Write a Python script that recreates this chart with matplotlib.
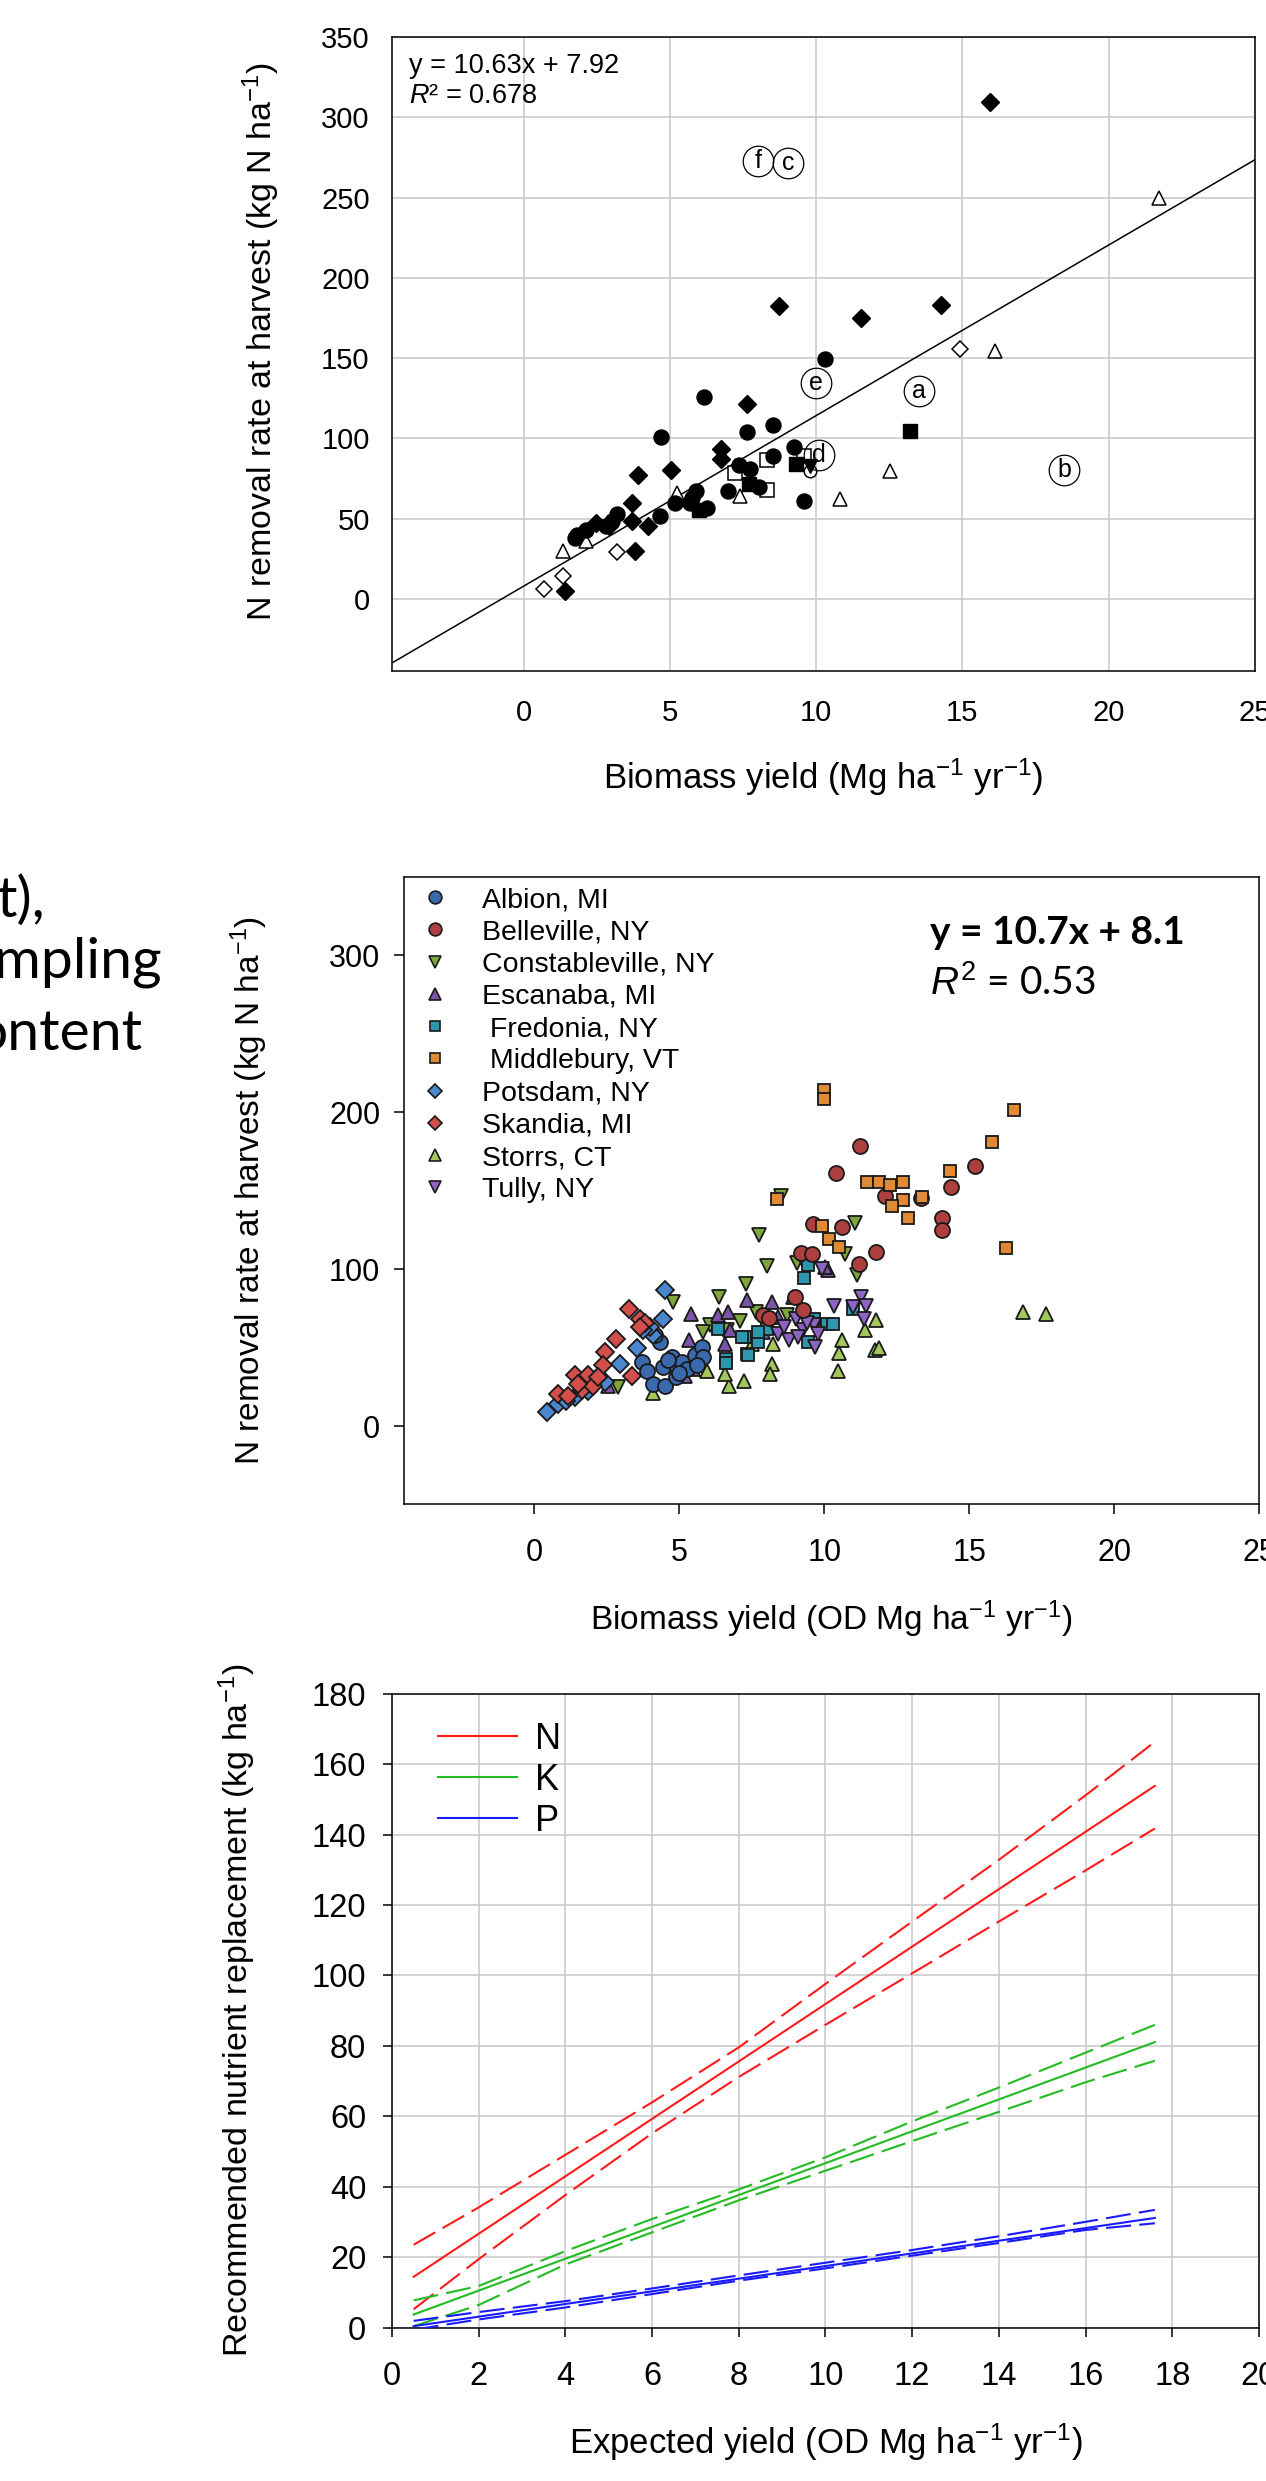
import matplotlib
matplotlib.use("Agg")
import matplotlib.pyplot as plt
from matplotlib.lines import Line2D

plt.rcParams['font.family'] = ['Liberation Sans', 'DejaVu Sans']
plt.rcParams['mathtext.fontset'] = 'custom'
plt.rcParams['mathtext.rm'] = 'Liberation Sans'
plt.rcParams['mathtext.it'] = 'Liberation Sans:italic'
plt.rcParams['mathtext.bf'] = 'Liberation Sans:bold'

# ---------------- panel 1: literature data ----------------
fill_circ_x = [6.17, 4.71, 7.63, 8.54, 8.54, 9.25, 7.35, 7.75, 6.99, 8.03, 9.59, 5.89, 5.76, 5.70,
               6.27, 5.19, 4.65, 3.2, 1.83, 2.12, 1.77, 3.03, 2.8, 10.31]
fill_circ_y = [125.8, 100.7, 104, 108.6, 89.3, 94.5, 83.7, 81, 67.5, 69.8, 61.3, 67, 63, 60,
               56.7, 59.9, 51.5, 52.6, 40, 43, 38, 48.4, 45.3, 149.5]
fill_diam_x = [15.94, 8.73, 11.53, 14.26, 7.63, 6.76, 6.76, 5.05, 3.91, 3.71, 3.71, 4.26, 3.82, 1.43, 2.46, 2.91]
fill_diam_y = [309.6, 182.3, 175, 183, 121.6, 93.5, 87.2, 80.6, 77.3, 59.9, 48.4, 45.3, 29.7, 4.9, 47.4, 45.3]
fill_sq_x = [13.21, 9.32, 7.69, 5.98]
fill_sq_y = [104.9, 84, 71.3, 55.6]
fill_dtri_x = [9.8]
fill_dtri_y = [82.6]
open_sq_x = [8.32, 7.24, 8.32, 9.6]
open_sq_y = [86.8, 78.5, 67.7, 89]
open_tri_x = [21.72, 16.13, 12.52, 10.82, 1.35, 5.25, 7.41, 2.12]
open_tri_y = [250, 154.7, 79.4, 62, 29.7, 66, 64.4, 36]
open_diam_x = [14.9, 3.18, 1.33, 0.69]
open_diam_y = [156, 29.5, 14.3, 6.4]
open_circ_x = [9.8]
open_circ_y = [80]
letter_lab = ['f', 'c', 'e', 'a', 'b', 'd']
letter_x = [8.02, 9.03, 10.0, 13.53, 18.47, 10.1]
letter_y = [273.0, 271.5, 134.3, 129.6, 80.3, 89.5]
fit1_slope = 10.63
fit1_icpt = 7.92

# ---------------- panel 2: sites ----------------
site_names = ['Albion, MI', 'Belleville, NY', 'Constableville, NY', 'Escanaba, MI', ' Fredonia, NY',
              ' Middlebury, VT', 'Potsdam, NY', 'Skandia, MI', 'Storrs, CT', 'Tully, NY']
albion_x = [3.7, 3.87, 4.1, 4.33, 4.5, 4.44, 4.73, 4.9, 5.08, 4.9, 5.25, 5.54, 5.77, 5.82, 4.6, 5.0, 4.16, 5.6]
albion_y = [40.7, 35.4, 26.9, 53.5, 25.8, 37.5, 43.9, 38.6, 40.7, 31.1, 36.5, 45, 50.3, 44.3, 42, 34, 57.8, 39]
belle_x = [11.22, 10.39, 15.2, 14.37, 14.05, 14.05, 12.08, 10.6, 9.62, 11.78, 9.19, 9.56, 11.2, 8.99, 9.28, 7.9, 13.33, 8.1]
belle_y = [178.4, 161.4, 166, 152.1, 132.7, 125.3, 146.4, 126.6, 128.7, 111, 110.6, 110, 103.6, 82.2, 73.7, 70.5, 145.7, 69]
const_x = [8.51, 7.75, 8.02, 7.3, 6.37, 4.77, 11.06, 10.71, 11.12, 9.07, 7.64, 6.06, 6.66, 2.89, 8.7, 9.3, 5.8, 7.1]
const_y = [146.4, 121.7, 102, 90.5, 82.5, 79, 129.5, 110, 96.1, 104, 72.4, 64.2, 61, 24.7, 70.5, 104, 60, 67]
escan_x = [10.14, 10.02, 8.93, 8.18, 7.34, 8.41, 5.4, 6.32, 6.69, 6.57, 6.75, 5.48, 5.19, 5.34, 2.55, 7.9]
escan_y = [99.7, 101.4, 82.2, 79, 80.1, 69.5, 71.6, 71, 72.7, 52.5, 61, 36.5, 32.2, 54.6, 25.8, 60]
fredo_x = [9.43, 9.31, 9.64, 10.1, 11.0, 8.03, 7.26, 7.72, 7.32, 9.45, 6.34, 6.61, 6.61, 7.15, 7.38, 7.7, 10.3]
fredo_y = [102.5, 94.6, 68.4, 64.8, 74.8, 62, 56.7, 53.5, 46.1, 53.5, 61.6, 42.9, 40, 56.7, 45, 60, 65]
middl_x = [9.98, 9.98, 16.56, 15.8, 14.34, 11.47, 11.9, 12.26, 12.7, 13.38, 12.7, 12.33, 12.9, 8.36, 9.91, 10.17, 10.52, 16.26]
middl_y = [214.2, 208.3, 201.5, 181.3, 162.8, 155.5, 155.5, 153.5, 155.7, 146.1, 144, 140.2, 132.7, 144.5, 127.6, 119.1, 114.2, 113.2]
potsd_x = [4.5, 4.45, 4.1, 3.53, 2.95, 0.42, 0.82, 1.4, 1.86, 2.43, 3.99, 2.2, 1.1, 3.75]
potsd_y = [87, 68.4, 57.8, 49.9, 39.7, 8.8, 14.1, 18.3, 22.6, 27.9, 63, 31, 16, 61]
skand_x = [3.27, 3.64, 3.8, 3.66, 2.81, 2.43, 2.35, 3.35, 1.4, 1.86, 1.63, 2.03, 0.82, 1.17, 2.2, 1.5]
skand_y = [74.8, 68.4, 66, 63, 55.7, 47.1, 38.6, 32.2, 32.8, 32.8, 23.1, 25.8, 20.5, 19.4, 31.1, 27]
storr_x = [16.87, 17.66, 11.78, 11.4, 10.6, 10.52, 11.75, 11.9, 10.46, 8.22, 8.18, 8.13, 7.23, 7.5, 5.94, 6.72, 6.57, 4.1]
storr_y = [72.4, 71.4, 67.3, 61, 54.6, 46.5, 48.2, 49.8, 35, 52.5, 39.7, 33.3, 29, 52, 35.4, 25.8, 33.3, 20.9]
tully_x = [11.26, 11.0, 11.44, 11.37, 10.33, 9.91, 9.02, 9.28, 9.64, 9.79, 8.79, 8.41, 9.68, 9.1, 9.4, 8.6]
tully_y = [82.2, 75.8, 76.3, 68.4, 76.3, 100.4, 68.4, 61, 64.2, 58.9, 54.6, 58.9, 50.3, 56.7, 66, 63]

# ---------------- panel 3: recommended replacement ----------------
yield_ends = [0.5, 17.6]
n_mid = [14.5, 153.8]
k_mid = [3.8, 81.1]
p_mid = [0.5, 31.2]
band_x = [0.5, 2, 4, 6, 8, 10, 12, 14, 16, 17.6]
n_up = [23.6, 34.2, 49.1, 64, 79.6, 97.6, 115.3, 132.8, 151.1, 166.3]
n_lo = [5.3, 19.5, 37.7, 55.2, 71.2, 86, 100.6, 115.3, 129.8, 141.7]
k_up = [7.8, 11.9, 21.8, 30.9, 39.3, 48.4, 58.6, 68.2, 78.1, 86]
k_lo = [0.5, 6.5, 18, 27.1, 36.2, 44.6, 53, 61.3, 69.7, 75.8]
p_up = [2, 4.5, 7.6, 11.2, 14.9, 18.5, 22.1, 26, 30.1, 33.5]
p_lo = [-0.5, 2.4, 5.8, 9.6, 13.4, 16.9, 20.5, 24.1, 27.8, 29.7]

fig = plt.figure(figsize=(12.66, 24.81), dpi=100)

# left cropped slide text
slide_font = ['Lato', 'DejaVu Sans']
fig.text(45 / 1266, 1 - 917 / 2481, "t),", ha='right', va='baseline', fontsize=41, family=slide_font)
fig.text(162 / 1266, 1 - 977 / 2481, "mpling", ha='right', va='baseline', fontsize=41, family=slide_font)
fig.text(143 / 1266, 1 - 1050 / 2481, "ontent", ha='right', va='baseline', fontsize=41, family=slide_font)

# ---------------- panel 1 ----------------
ax1 = fig.add_axes([0.3096, 0.7295, 0.6817, 0.2555])
ax1.set_xlim(-4.5, 25)
ax1.set_ylim(-45, 350)
ax1.set_xticks(range(0, 26, 5))
ax1.set_yticks(range(0, 351, 50))
ax1.grid(True, color='#c8c8c8', lw=1.1)
ax1.set_axisbelow(True)
ax1.tick_params(length=0, labelsize=21)
ax1.tick_params(axis='y', pad=16)
ax1.tick_params(axis='x', pad=20)
for s in ax1.spines.values():
    s.set_linewidth(1.1)

xl = list(ax1.get_xlim())
ax1.plot(xl, [fit1_slope * v + fit1_icpt for v in xl], 'k-', lw=1.1, zorder=2)
ax1.plot(open_sq_x, open_sq_y, 's', ms=9.6, mfc='white', mec='k', mew=1.1, zorder=3)
ax1.plot(open_tri_x, open_tri_y, '^', ms=10, mfc='white', mec='k', mew=1.1, zorder=3)
ax1.plot(open_diam_x, open_diam_y, 'D', ms=8.5, mfc='white', mec='k', mew=1.1, zorder=3)
ax1.plot(open_circ_x, open_circ_y, 'o', ms=9, mfc='white', mec='k', mew=1.1, zorder=3)
ax1.plot(fill_circ_x, fill_circ_y, 'o', ms=10.8, mfc='k', mec='k', zorder=4)
ax1.plot(fill_diam_x, fill_diam_y, 'D', ms=9, mfc='k', mec='k', zorder=4)
ax1.plot(fill_sq_x, fill_sq_y, 's', ms=10.5, mfc='k', mec='k', zorder=4)
ax1.plot(fill_dtri_x, fill_dtri_y, 'v', ms=10, mfc='k', mec='k', zorder=4)
for lab, lx, ly in zip(letter_lab, letter_x, letter_y):
    ax1.plot([lx], [ly], 'o', ms=22, mfc='none', mec='k', mew=0.9, zorder=5)
    ax1.text(lx, ly, lab, ha='center', va='center', fontsize=18, zorder=6)

ax1.text(0.02, 0.954, "y = 10.63x + 7.92", transform=ax1.transAxes, fontsize=19.5, va='center')
ax1.text(0.02, 0.907, r"$R$² = 0.678", transform=ax1.transAxes, fontsize=19.5, va='center')
ax1.set_xlabel("Biomass yield (Mg ha$^{-1}$ yr$^{-1}$)", fontsize=25)
ax1.set_ylabel("N removal rate at harvest (kg N ha$^{-1}$)", fontsize=24.5)
ax1.xaxis.set_label_coords(0.5, -0.135)
ax1.yaxis.set_label_coords(-0.127, 0.52)

# ---------------- panel 2 ----------------
ax2 = fig.add_axes([0.3191, 0.3936, 0.6754, 0.2529])
ax2.set_xlim(-4.5, 25)
ax2.set_ylim(-50, 350)
ax2.set_xticks(range(0, 26, 5))
ax2.set_yticks([0, 100, 200, 300])
ax2.tick_params(direction='out', length=7, width=1.1, labelsize=22)
ax2.tick_params(axis='y', pad=10)
ax2.tick_params(axis='x', pad=17)
for s in ax2.spines.values():
    s.set_linewidth(1.1)

site_x = [albion_x, belle_x, const_x, escan_x, fredo_x, middl_x, potsd_x, skand_x, storr_x, tully_x]
site_y = [albion_y, belle_y, const_y, escan_y, fredo_y, middl_y, potsd_y, skand_y, storr_y, tully_y]
site_mark = ['o', 'o', 'v', '^', 's', 's', 'D', 'D', '^', 'v']
site_ms = [10.8, 10.8, 10, 10, 8.8, 8.8, 8.7, 8.7, 10, 10]
site_col = ['#3b69ae', '#ad3f3e', '#7fa63a', '#7b55a5', '#2e96ad', '#e08a36',
            '#4a87cf', '#d24f4c', '#a2c85a', '#8b64c4']
draw_order = [2, 8, 3, 4, 9, 0, 6, 7, 1, 5]
for i in draw_order:
    ax2.plot(site_x[i], site_y[i], site_mark[i], ms=site_ms[i], mfc=site_col[i], mec='#1a1a1a', mew=1.3,
             ls='none', zorder=3)
handles = [Line2D([], [], ls='none', marker=site_mark[i], ms=site_ms[i] * 0.85, mfc=site_col[i],
                  mec='#1a1a1a', mew=1.2) for i in range(len(site_names))]
ax2.legend(handles, site_names, loc='upper left', bbox_to_anchor=(0.02, 0.984), frameon=False,
           fontsize=20.5, handlelength=1.0, handletextpad=1.15, labelspacing=0.22, borderaxespad=0, borderpad=0)
ax2.text(0.615, 0.912, "y = 10.7x + 8.1", transform=ax2.transAxes, fontsize=28, fontweight='bold',
         family=slide_font, va='center')
ax2.text(0.615, 0.831, r"$R^2$ = 0.53", transform=ax2.transAxes, fontsize=28,
         family=slide_font, va='center')
ax2.set_xlabel("Biomass yield (OD Mg ha$^{-1}$ yr$^{-1}$)", fontsize=24)
ax2.set_ylabel("N removal rate at harvest (kg N ha$^{-1}$)", fontsize=24)
ax2.xaxis.set_label_coords(0.5, -0.15)
ax2.yaxis.set_label_coords(-0.157, 0.5)

# ---------------- panel 3 ----------------
ax3 = fig.add_axes([0.3096, 0.0617, 0.6848, 0.2557])
ax3.set_xlim(0, 20)
ax3.set_ylim(0, 180)
ax3.set_xticks(range(0, 21, 2))
ax3.set_yticks(range(0, 181, 20))
ax3.grid(True, color='#c8c8c8', lw=1.1)
ax3.set_axisbelow(True)
ax3.tick_params(direction='out', length=6.5, width=1.1, labelsize=23.5)
ax3.tick_params(axis='y', pad=12)
ax3.tick_params(axis='x', pad=17)
for s in ax3.spines.values():
    s.set_linewidth(1.1)

dash = (12, 4)
for mid, up, lo, col, lab in [(n_mid, n_up, n_lo, '#ff1a1a', 'N'),
                              (k_mid, k_up, k_lo, '#22bb22', 'K'),
                              (p_mid, p_up, p_lo, '#1a1aff', 'P')]:
    ax3.plot(yield_ends, mid, '-', color=col, lw=1.5, label=lab, zorder=3)
    ax3.plot(band_x, up, '--', color=col, lw=1.5, dashes=dash, zorder=3)
    ax3.plot(band_x, lo, '--', color=col, lw=1.5, dashes=dash, zorder=3)
ax3.legend(loc='upper left', bbox_to_anchor=(0.053, 0.955), fontsize=26, handlelength=2.2,
           handletextpad=0.5, labelspacing=0.16, frameon=False, borderaxespad=0, borderpad=0)
ax3.set_xlabel("Expected yield (OD Mg ha$^{-1}$ yr$^{-1}$)", fontsize=25)
ax3.set_ylabel("Recommended nutrient replacement (kg ha$^{-1}$)", fontsize=24.5)
ax3.xaxis.set_label_coords(0.5, -0.148)
ax3.yaxis.set_label_coords(-0.155, 0.5)

fig.savefig("out.png", dpi=100)
